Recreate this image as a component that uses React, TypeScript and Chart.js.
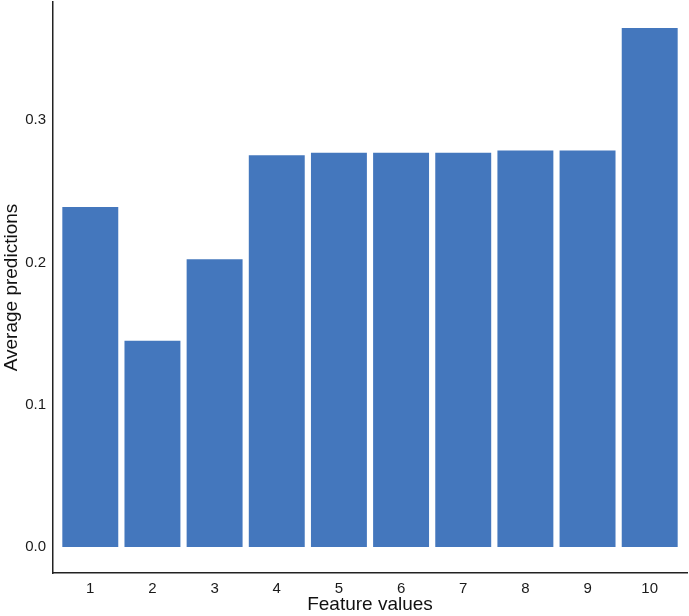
import React, { useEffect, useRef } from "react";
import { Chart, registerables } from "chart.js";

Chart.register(...registerables);

const categories = ["1", "2", "3", "4", "5", "6", "7", "8", "9", "10"];
const avgPredictions = [0.2389, 0.1449, 0.2022, 0.2753, 0.2771, 0.2771, 0.2771, 0.2787, 0.2787, 0.3648];
const yTickValues = [0, 0.1, 0.2, 0.3];
const xTitle = "Feature values";
const yTitle = "Average predictions";

const FONT = "'Liberation Sans', Arial, Helvetica, sans-serif";

export default function App() {
  const ref = useRef<HTMLCanvasElement | null>(null);

  useEffect(() => {
    document.body.style.margin = "0";
    const canvas = ref.current;
    if (!canvas) return;
    const chart = new Chart(canvas, {
      type: "bar",
      data: {
        datasets: [
          {
            data: avgPredictions.map((v, i) => ({ x: i + 1, y: v })),
            backgroundColor: "#4477bd",
            borderWidth: 0,
            barPercentage: 0.9,
            categoryPercentage: 1,
          },
        ],
      },
      options: {
        responsive: false,
        animation: false,
        layout: { padding: { top: 2, right: 2, left: 0, bottom: 0 } },
        plugins: { legend: { display: false }, tooltip: { enabled: false } },
        scales: {
          x: {
            type: "linear",
            offset: false,
            min: 0.4,
            max: 10.6,
            grid: { display: false, drawTicks: false },
            border: { display: true, color: "#222", width: 1.5 },
            afterBuildTicks: (scale: any) => {
              scale.ticks = categories.map((_, i) => ({ value: i + 1 }));
            },
            afterFit: (scale: any) => {
              scale.height = 43;
              scale.paddingLeft = 0;
              scale.paddingRight = 0;
            },
            ticks: {
              padding: 7,
              color: "#1a1a1a",
              font: { family: FONT, size: 15 },
              maxRotation: 0,
              autoSkip: false,
              callback: (v: any) => categories[Math.round(Number(v)) - 1] ?? "",
            },
            title: {
              display: true,
              text: xTitle,
              color: "#111",
              font: { family: FONT, size: 19, lineHeight: 1.2 },
              padding: { top: 0, bottom: 0 },
            },
          },
          y: {
            type: "linear",
            min: -0.0182,
            max: 0.383,
            grid: { display: false, drawTicks: false },
            border: { display: true, color: "#222", width: 1.5 },
            afterBuildTicks: (scale: any) => {
              scale.ticks = yTickValues.map((v) => ({ value: v }));
            },
            afterFit: (scale: any) => {
              scale.width = 53;
              scale.paddingTop = 0;
              scale.paddingBottom = 0;
            },
            ticks: {
              padding: 7,
              color: "#1a1a1a",
              font: { family: FONT, size: 15 },
              callback: (v: any) => Number(v).toFixed(1),
            },
            title: {
              display: true,
              text: yTitle,
              color: "#111",
              font: { family: FONT, size: 19, lineHeight: 1.2 },
              padding: { top: 0, bottom: 0 },
            },
          },
        },
      },
    });
    return () => chart.destroy();
  }, []);

  return (
    <div style={{ position: "absolute", left: 0, top: 0, width: 689, height: 616 }}>
      <canvas ref={ref} width={689} height={616} style={{ display: "block" }} />
    </div>
  );
}
